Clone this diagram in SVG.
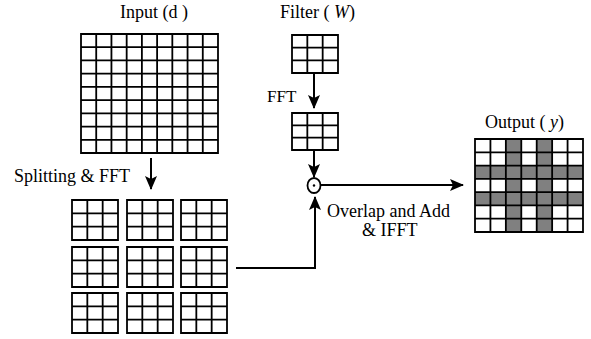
<svg xmlns="http://www.w3.org/2000/svg" width="591" height="339" viewBox="0 0 591 339">
<defs>
<style>
.grid{fill:none;stroke:#000;stroke-width:1.8}
.conn{fill:none;stroke:#000;stroke-width:2}
.gray{fill:#808080}
</style>
<marker id="ah" markerUnits="userSpaceOnUse" markerWidth="14" markerHeight="12" viewBox="0 0 14 12" refX="13" refY="6" orient="auto">
<path d="M0,0 L14,6 L0,12 L3,6 Z" fill="#000"/>
</marker>
<path id="g3" d="M0,0 H46 V40 H0 Z M15.33,0 V40 M30.67,0 V40 M0,13.33 H46 M0,26.67 H46"/>
</defs>
<rect width="591" height="339" fill="#fff"/>

<g id="input">
<text x="120" y="18" font-family="Liberation Serif" font-size="18">Input (d )</text>
<path class="grid" d="M81,34 H218 V153 H81 Z M96.22,34 V153 M111.44,34 V153 M126.67,34 V153 M141.89,34 V153 M157.11,34 V153 M172.33,34 V153 M187.56,34 V153 M202.78,34 V153 M81,47.22 H218 M81,60.44 H218 M81,73.67 H218 M81,86.89 H218 M81,100.11 H218 M81,113.33 H218 M81,126.56 H218 M81,139.78 H218"/>
</g>

<g id="filter">
<text x="280" y="18" font-family="Liberation Serif" font-size="18">Filter ( <tspan font-style="italic">W</tspan>)</text>
<path class="grid" d="M292,35 H338 V73 H292 Z M307.33,35 V73 M322.67,35 V73 M292,47.67 H338 M292,60.33 H338"/>
</g>

<g id="filter-fft">
<text x="267" y="102" font-family="Liberation Serif" font-size="17">FFT</text>
<path class="grid" d="M292,113 H338 V150 H292 Z M307.33,113 V150 M322.67,113 V150 M292,125.33 H338 M292,137.67 H338"/>
</g>

<g id="split">
<text x="14" y="182" font-family="Liberation Serif" font-size="18">Splitting &amp; FFT</text>
<g class="grid">
<use href="#g3" x="72" y="200"/>
<use href="#g3" x="127" y="200"/>
<use href="#g3" x="181" y="200"/>
<use href="#g3" x="72" y="247"/>
<use href="#g3" x="127" y="247"/>
<use href="#g3" x="181" y="247"/>
<use href="#g3" x="72" y="293"/>
<use href="#g3" x="127" y="293"/>
<use href="#g3" x="181" y="293"/>
</g>
</g>

<g id="multiply">
<ellipse cx="314" cy="185.5" rx="6.5" ry="7.5" fill="#fff" stroke="#000" stroke-width="1.8"/>
<circle cx="314" cy="185.5" r="1.2" fill="#000"/>
</g>

<g id="label-overlap">
<text x="327" y="217" font-family="Liberation Serif" font-size="18">Overlap and Add</text>
<text x="362" y="236" font-family="Liberation Serif" font-size="18">&amp; IFFT</text>
</g>

<g id="output">
<text x="485" y="128" font-family="Liberation Serif" font-size="18">Output ( <tspan font-style="italic">y</tspan>)</text>
<rect class="gray" x="505.86" y="139" width="15.43" height="93"/>
<rect class="gray" x="536.71" y="139" width="15.43" height="93"/>
<rect class="gray" x="475" y="165.57" width="108" height="13.29"/>
<rect class="gray" x="475" y="192.14" width="108" height="13.29"/>
<path class="grid" d="M475,139 H583 V232 H475 Z M490.43,139 V232 M505.86,139 V232 M521.29,139 V232 M536.71,139 V232 M552.14,139 V232 M567.57,139 V232 M475,152.29 H583 M475,165.57 H583 M475,178.86 H583 M475,192.14 H583 M475,205.43 H583 M475,218.71 H583"/>
</g>

<g id="connectors">
<line class="conn" x1="151" y1="158" x2="151" y2="189" marker-end="url(#ah)"/>
<line class="conn" x1="314" y1="73" x2="314" y2="108" marker-end="url(#ah)"/>
<line class="conn" x1="314" y1="150" x2="314" y2="177" marker-end="url(#ah)"/>
<polyline class="conn" points="236,268 315,268 315,197" marker-end="url(#ah)"/>
<line class="conn" x1="321" y1="185" x2="463" y2="185" marker-end="url(#ah)"/>
</g>
</svg>
